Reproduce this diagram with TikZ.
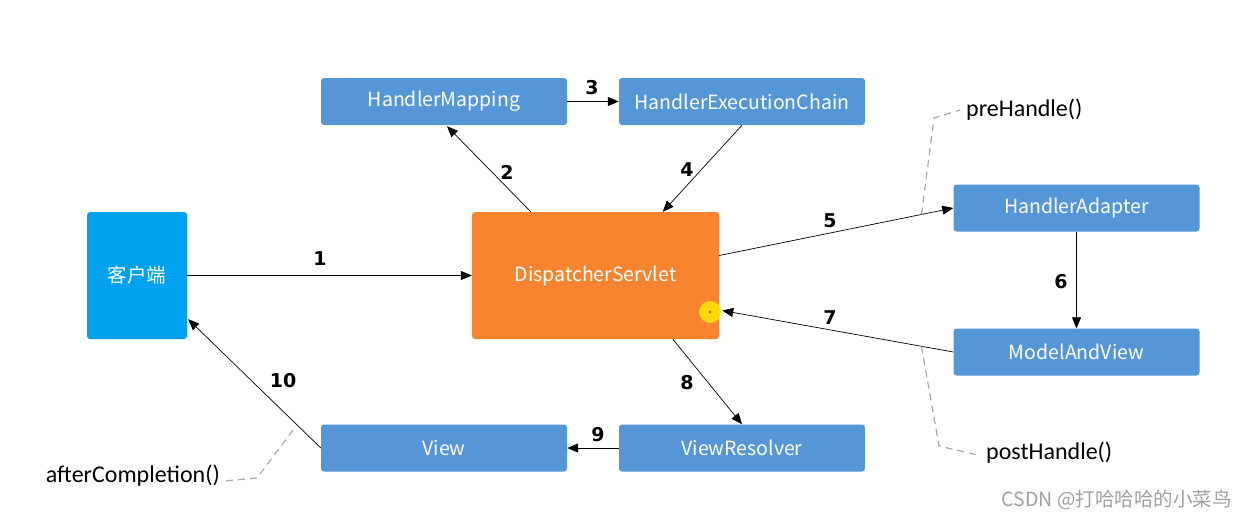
\documentclass[tikz,border=0pt]{standalone}
\usepackage{fontspec}
\setmainfont{Carlito}
\newfontfamily\boxfont{Noto Sans CJK SC}
\newfontfamily\numfont{DejaVu Sans}
\usetikzlibrary{arrows.meta,calc}
\definecolor{clientblue}{HTML}{00A2F0}
\definecolor{boxblue}{HTML}{5596D7}
\definecolor{dsorange}{HTML}{F9842F}
\definecolor{dashgray}{HTML}{A8A8A8}
\definecolor{wmgray}{HTML}{A0A0A0}
\tikzset{
  flowbox/.style={draw=none, fill=boxblue, rounded corners=3pt, text=white,
    minimum width=246pt, minimum height=47pt, inner sep=0pt,
    font=\boxfont\fontsize{19.5}{22}\selectfont},
  flowarrow/.style={draw=black, line width=0.7pt, -{Triangle[length=11pt,width=9pt]}},
  numlbl/.style={font=\numfont\bfseries\fontsize{19}{21}\selectfont, inner sep=0pt},
  notelbl/.style={font=\fontsize{24}{27}\selectfont, inner sep=0pt},
  noteline/.style={draw=dashgray, line width=1.2pt, dash pattern=on 7pt off 5pt}
}
\begin{document}
\begin{tikzpicture}[x=1pt,y=-1pt]
\useasboundingbox (0,0) rectangle (1246,519);
% nodes
\node[flowbox, fill=clientblue, minimum width=100pt, minimum height=127pt] (client) at (137,275.5) {客户端};
\node[flowbox, fill=dsorange, minimum width=247pt, minimum height=127pt] (ds) at (595.5,275.5) {DispatcherServlet};
\node[flowbox] (hm) at (444,101.5) {HandlerMapping};
\node[flowbox] (hec) at (742,101.5) {HandlerExecutionChain};
\node[flowbox] (ha) at (1076.5,208) {HandlerAdapter};
\node[flowbox] (mav) at (1076.5,352) {ModelAndView};
\node[flowbox] (view) at (444,448) {View};
\node[flowbox] (vr) at (742,448) {ViewResolver};
% cursor highlight
\fill[yellow!85!orange, opacity=0.9] (710,312) circle (11pt);
\fill[red] (710,312) circle (1.2pt);
% connectors
\draw[flowarrow] (client.east) -- (ds.west);
\draw[flowarrow] ($(ds.north west)+(59,0)$) -- ($(hm.south)+(3,1)$);
\draw[flowarrow] (hm.east) -- (hec.west);
\draw[flowarrow] (hec.south) -- ($(ds.north west)+(191,0)$);
\draw[flowarrow] ($(ds.east)+(0,-20)$) -- coordinate[pos=0.864] (p5) (ha.west);
\draw[flowarrow] (ha.south) -- (mav.north);
\draw[flowarrow] (mav.west) -- coordinate[pos=0.138] (p7) ($(ds.east)+(3,35)$);
\draw[flowarrow] ($(ds.south west)+(201,0)$) -- (vr.north);
\draw[flowarrow] (vr.west) -- (view.east);
\draw[flowarrow] (view.west) -- ($(client.south east)+(1,-20)$);
% number labels
\node[numlbl] (n1) at (320,259) {1};
\node[numlbl] (n2) at (507,172) {2};
\node[numlbl] (n3) at (592,88) {3};
\node[numlbl] (n4) at (687,170) {4};
\node[numlbl] (n5) at (830,221) {5};
\node[numlbl] (n6) at (1061,282) {6};
\node[numlbl] (n7) at (830,318) {7};
\node[numlbl] (n8) at (687,383) {8};
\node[numlbl] (n9) at (598,435) {9};
\node[numlbl] (n10) at (283,381) {10};
% note labels
\node[notelbl, anchor=west] (pre) at (966,110) {preHandle()};
\node[notelbl, anchor=west] (post) at (986,453) {postHandle()};
\node[notelbl, anchor=east] (after) at (220,476) {afterCompletion()};
\coordinate (pre1) at (934,118);
\coordinate (post1) at (939,446);
\coordinate (after0) at (293,430);
\coordinate (after1) at (257,478);
\draw[noteline] (p5) -- (pre1) -- ($(pre.west)+(-6,0)$);
\draw[noteline] (p7) -- (post1) -- ($(post.west)+(-8,2)$);
\draw[noteline] (after0) -- (after1) -- ($(after.east)+(4,5)$);
% watermark
\node[font=\boxfont\fontsize{19.5}{21}\selectfont, text=wmgray, anchor=east, inner sep=0pt] (wm) at (1232,500) {CSDN @打哈哈哈的小菜鸟};
\end{tikzpicture}
\end{document}
